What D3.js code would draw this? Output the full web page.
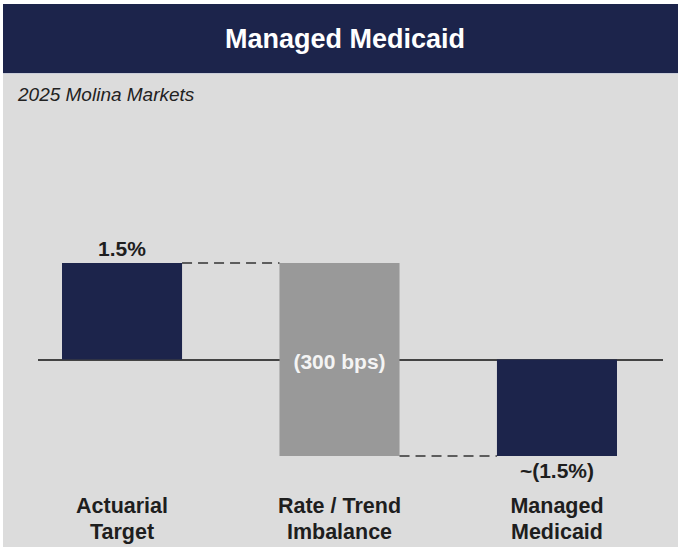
<!DOCTYPE html>
<html>
<head>
<meta charset="utf-8">
<script src="https://cdn.jsdelivr.net/npm/d3@7"></script>
<style>
html,body{margin:0;padding:0;background:#fff;}
svg{display:block;}
text{font-family:"Liberation Sans",Arial,sans-serif;}
</style>
</head>
<body>
<svg id="chart" width="680" height="549"></svg>
<script>
const categories = [["Actuarial","Target"],["Rate / Trend","Imbalance"],["Managed","Medicaid"]];
const steps = [1.5, -3.0, -1.5]; // first: level, second: change, third: resulting total
const kinds = ["total","delta","total"];
const valueLabels = ["1.5%","(300 bps)","~(1.5%)"];
const title = "Managed Medicaid";
const subtitle = "2025 Molina Markets";

const svg = d3.select("#chart");
const navy = "#1c244b", gray = "#999999", bg = "#dcdcdc";

svg.append("rect").attr("x",3).attr("y",4).attr("width",675).attr("height",543).attr("fill",bg);
svg.append("rect").attr("x",3).attr("y",4).attr("width",675).attr("height",69).attr("fill",navy);
svg.append("line").attr("x1",3).attr("x2",678).attr("y1",73.5).attr("y2",73.5).attr("stroke","#c8ccd8").attr("stroke-width",1);

svg.append("text").attr("x",345).attr("y",48).attr("text-anchor","middle")
  .attr("fill","#fff").attr("font-size",27).attr("font-weight","bold").text(title);
svg.append("text").attr("x",18).attr("y",101).attr("fill","#222")
  .attr("font-size",19).attr("font-style","italic").text(subtitle);

// compute waterfall bars
let running = 0;
const bars = steps.map((v,i)=>{
  let y0,y1;
  if(kinds[i]==="total"){ y0=0; y1=v; running=v; }
  else { y0=running; y1=running+v; running=y1; }
  return {i, y0, y1, kind:kinds[i]};
});

const xb = d3.scaleBand().domain(d3.range(categories.length)).range([62,617]).paddingInner(0.448).paddingOuter(0);
const y = d3.scaleLinear().domain([-1.5,1.5]).range([456,263]);
const cx = i => xb(i)+xb.bandwidth()/2;

const g = svg.append("g");

// baseline (drawn beneath the bars)
g.append("line").attr("x1",38).attr("x2",663).attr("y1",y(0)+0.5).attr("y2",y(0)+0.5)
  .attr("stroke","#111").attr("stroke-width",1.5);

g.selectAll("rect.bar").data(bars).join("rect").attr("class","bar")
  .attr("x",d=>xb(d.i)).attr("width",xb.bandwidth())
  .attr("y",d=>y(Math.max(d.y0,d.y1))).attr("height",d=>Math.abs(y(d.y0)-y(d.y1)))
  .attr("fill",d=>d.kind==="total"?navy:gray);

// connectors
for(let i=0;i<bars.length-1;i++){
  const lvl = bars[i].y1;
  g.append("line").attr("x1",xb(i)+xb.bandwidth()).attr("x2",xb(i+1))
    .attr("y1",y(lvl)).attr("y2",y(lvl))
    .attr("stroke","#333").attr("stroke-width",1.5).attr("stroke-dasharray","10,6");
}

// value labels
g.append("text").attr("x",cx(0)).attr("y",y(bars[0].y1)-7)
  .attr("text-anchor","middle").attr("font-size",21).attr("font-weight","bold").attr("fill","#1e1e1e").text(valueLabels[0]);
g.append("text").attr("x",cx(1)).attr("y",y(0)+9)
  .attr("text-anchor","middle").attr("font-size",21).attr("font-weight","bold").attr("fill","#f4f4f4").text(valueLabels[1]);
g.append("text").attr("x",cx(2)).attr("y",y(bars[2].y1)+22)
  .attr("text-anchor","middle").attr("font-size",21).attr("font-weight","bold").attr("fill","#1e1e1e").text(valueLabels[2]);

// category labels
categories.forEach((lines,i)=>{
  const t = g.append("text").attr("text-anchor","middle").attr("font-size",21.5).attr("font-weight","bold").attr("fill","#1e1e1e");
  lines.forEach((ln,j)=>{
    t.append("tspan").attr("x",cx(i)).attr("y",513+j*26).text(ln);
  });
});
</script>
</body>
</html>
